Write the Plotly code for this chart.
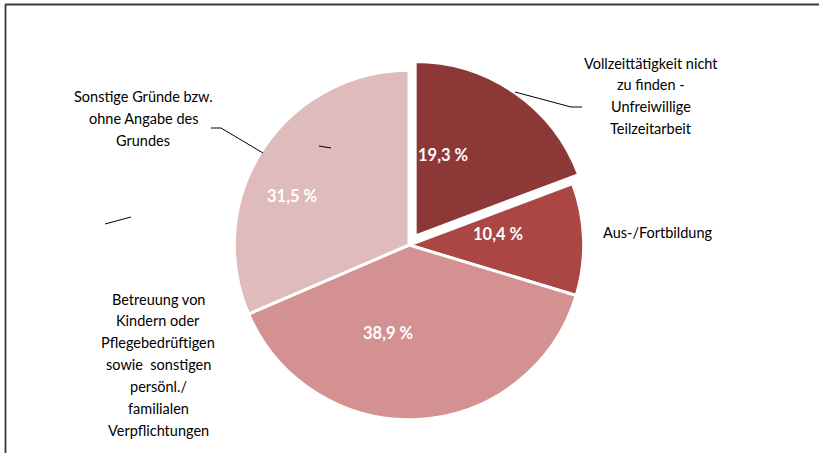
import plotly.graph_objects as go

# Anteile in %, im Uhrzeigersinn ab 12 Uhr
categories = [
    "Vollzeittätigkeit nicht zu finden - Unfreiwillige Teilzeitarbeit",
    "Aus-/Fortbildung",
    "Betreuung von Kindern oder Pflegebedrüftigen sowie  sonstigen persönl./ familialen Verpflichtungen",
    "Sonstige Gründe bzw. ohne Angabe des Grundes",
]
values = [19.3, 10.4, 38.9, 31.5]
colors = ["#8c3836", "#aa4644", "#d39191", "#e0bbbb"]
pulls = [0.062, 0, 0, 0]

W, H = 819, 453
FONT = "Lato, Open Sans, sans-serif"


def px(x, y):
    """Pixel -> paper coords (margins are zero)."""
    return x / W, 1 - y / H


# Lage der Prozent-Beschriftungen (Pixel, Mitte)
pct_pos = [(443, 155), (498, 234), (388, 333), (292, 196)]

# Label-Texte außerhalb (Zeilen, Mitte x, erste Zeile y)
outside_labels = [
    (["Vollzeittätigkeit nicht", "zu finden -", "Unfreiwillige", "Teilzeitarbeit"], 651, 63),
    (["Aus-/Fortbildung"], 658, 233),
    (["Betreuung von", "Kindern oder", "Pflegebedrüftigen", "sowie  sonstigen",
      "persönl./", "familialen", "Verpflichtungen"], 158, 299),
    (["Sonstige Gründe bzw.", "ohne Angabe des", "Grundes"], 143, 97),
]
LINE_H = 21.9

fig = go.Figure(go.Pie(
    labels=categories,
    values=values,
    sort=False,
    direction="clockwise",
    rotation=0,
    pull=pulls,
    marker=dict(colors=colors, line=dict(color="white", width=3)),
    textinfo="none",
    hoverinfo="label+percent",
    showlegend=False,
    domain=dict(x=[223.5 / W, 594.5 / W], y=[1 - 430.5 / H, 1 - 59.5 / H]),
))

annotations = []
for v, (lx, ly) in zip(values, pct_pos):
    x, y = px(lx, ly)
    annotations.append(dict(
        x=x, y=y, xref="paper", yref="paper",
        text=f"{v:.1f} %".replace(".", ","), showarrow=False,
        xanchor="center", yanchor="middle",
        font=dict(family=FONT, size=16.5, color="white", weight="bold"),
    ))
for lines, cx, y0 in outside_labels:
    for i, line in enumerate(lines):
        x, y = px(cx, y0 + i * LINE_H)
        annotations.append(dict(
            x=x, y=y, xref="paper", yref="paper", text=line, showarrow=False,
            xanchor="center", yanchor="middle",
            font=dict(family=FONT, size=14.5, color="#000000"),
        ))

# Führungslinien und Rahmen
shapes = []
leader_paths = [
    [(515, 92), (571, 107), (582, 107)],
    [(263, 153), (221, 128), (211, 128)],
    [(319, 146), (331, 148)],
    [(105, 224), (131, 217)],
]
for pts in leader_paths:
    path = "M " + " L ".join(f"{px(x, y)[0]},{px(x, y)[1]}" for x, y in pts)
    shapes.append(dict(type="path", path=path, xref="paper", yref="paper",
                       line=dict(color="#000000", width=1)))
shapes.append(dict(type="line", xref="paper", yref="paper",
                   x0=px(5, 0)[0], x1=1, y0=px(0, 4.5)[1], y1=px(0, 4.5)[1],
                   line=dict(color="#3a3a3a", width=1.8)))
shapes.append(dict(type="line", xref="paper", yref="paper",
                   x0=px(5.5, 0)[0], x1=px(5.5, 0)[0], y0=0, y1=px(0, 4.5)[1],
                   line=dict(color="#3a3a3a", width=1.8)))

fig.update_layout(
    width=W, height=H,
    margin=dict(l=0, r=0, t=0, b=0),
    paper_bgcolor="white",
    plot_bgcolor="white",
    font=dict(family=FONT),
    annotations=annotations,
    shapes=shapes,
)

fig.write_html(
    "out.html",
    config={"displayModeBar": False},
    post_script="document.body.style.margin='0';document.body.style.overflow='hidden';",
)
